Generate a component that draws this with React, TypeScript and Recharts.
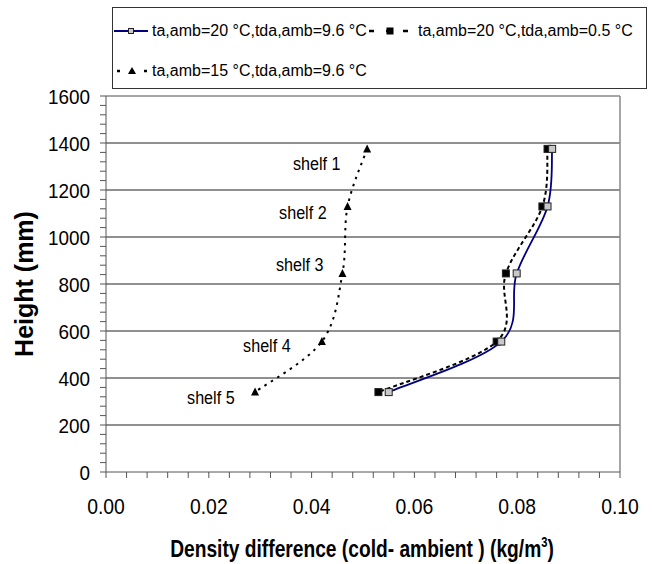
import React from 'react';
import { LineChart, Line, XAxis, YAxis, ReferenceLine, ReferenceDot } from 'recharts';

// heights of the five shelves (mm)
const heights = [1375, 1130, 845, 555, 340];
// density difference (kg/m3) per series, shelf 1 -> shelf 5
const warm96 = [0.0868, 0.0859, 0.0799, 0.0769, 0.055];
const warm05 = [0.0859, 0.0849, 0.0778, 0.076, 0.053];
const cool96 = [0.0508, 0.047, 0.046, 0.042, 0.029];

const shelfNames = ['shelf 1', 'shelf 2', 'shelf 3', 'shelf 4', 'shelf 5'];
const shelfLabelX = [0.041, 0.0383, 0.0377, 0.0313, 0.0204];
const shelfLabelY = [1315, 1107, 885, 540, 320];

const xTicks = Array.from({ length: 26 }, (_, i) => Math.round(i * 4) / 1000);
const yTicks = Array.from({ length: 41 }, (_, i) => i * 40);
const gridLines = [200, 400, 600, 800, 1000, 1200, 1400];

const toRows = (vals: number[]) => vals.map((d, i) => ({ d, h: heights[i] }));

const FONT = '"Liberation Sans", Arial, sans-serif';

// Excel-style smoothed line (Catmull-Rom through the points)
const smoothCurve = (ctx: any) => {
  let pts: number[][] = [];
  return {
    areaStart() {},
    areaEnd() {},
    lineStart() {
      pts = [];
    },
    point(x: number, y: number) {
      pts.push([x, y]);
    },
    lineEnd() {
      if (!pts.length) return;
      ctx.moveTo(pts[0][0], pts[0][1]);
      for (let i = 0; i < pts.length - 1; i++) {
        const p0 = pts[i - 1] || pts[i];
        const p1 = pts[i];
        const p2 = pts[i + 1];
        const p3 = pts[i + 2] || p2;
        ctx.bezierCurveTo(
          p1[0] + (p2[0] - p0[0]) / 6,
          p1[1] + (p2[1] - p0[1]) / 6,
          p2[0] - (p3[0] - p1[0]) / 6,
          p2[1] - (p3[1] - p1[1]) / 6,
          p2[0],
          p2[1],
        );
      }
    },
  };
};

// narrow-looking text: squeeze horizontally around the anchor point
const Narrow = ({ x, y, size, sx, anchor, children, bold }: any) => (
  <text
    transform={`translate(${x},${y}) scale(${sx},1)`}
    textAnchor={anchor}
    fontSize={size}
    fontFamily={FONT}
    fontWeight={bold ? 'bold' : 'normal'}
    fill="#000"
  >
    {children}
  </text>
);

const SquareDot = (fill: string) => (p: any) => {
  if (p.cx == null || p.cy == null) return null;
  return <rect x={p.cx - 3.5} y={p.cy - 3.5} width={7} height={7} fill={fill} stroke="#222" strokeWidth={1} />;
};

const TriDot = (p: any) => {
  if (p.cx == null || p.cy == null) return null;
  const { cx, cy } = p;
  return <path d={`M${cx},${cy - 4.5} L${cx + 4},${cy + 3.5} L${cx - 4},${cy + 3.5} Z`} fill="#000" />;
};

const XTick = (p: any) => {
  const v = p.payload.value;
  if (Math.abs(v * 50 - Math.round(v * 50)) > 1e-6) return null;
  return (
    <Narrow x={p.x} y={p.y + 29} size={22} sx={0.88} anchor="middle">
      {v.toFixed(2)}
    </Narrow>
  );
};

const YTick = (p: any) => {
  const v = p.payload.value;
  if (v % 200 !== 0) return null;
  return (
    <Narrow x={p.x} y={p.y + 7.5} size={21} sx={0.9} anchor="end">
      {v}
    </Narrow>
  );
};

const LegendItem = ({ icon, text, left, top }: { icon: React.ReactNode; text: string; left: number; top: number }) => (
  <div style={{ position: 'absolute', left, top, display: 'flex', alignItems: 'center', height: 20 }}>
    {icon}
    <span style={{ fontFamily: FONT, fontSize: 16, marginLeft: 4, whiteSpace: 'nowrap' }}>{text}</span>
  </div>
);

export default function App() {
  return (
    <div style={{ position: 'absolute', left: 0, top: 0, width: 654, height: 564, background: '#fff' }}>
      <LineChart
        width={654}
        height={564}
        layout="vertical"
        margin={{ top: 96, right: 34, bottom: 52, left: 46 }}
      >
        <XAxis
          type="number"
          domain={[0, 0.1]}
          ticks={xTicks}
          interval={0}
          tick={<XTick />}
          tickSize={6}
          tickMargin={7}
          height={40}
          stroke="#555"
        />
        <YAxis
          type="number"
          dataKey="h"
          domain={[0, 1600]}
          reversed
          ticks={yTicks}
          interval={0}
          tick={<YTick />}
          tickSize={6}
          tickMargin={10}
          width={60}
          stroke="#555"
        />
        {gridLines.map((g) => (
          <ReferenceLine key={g} y={g} stroke="#222" strokeWidth={1.2} />
        ))}
        <ReferenceLine y={1600} stroke="#888" strokeWidth={1.5} />
        <ReferenceLine x={0.1} stroke="#888" strokeWidth={1.5} />
        {shelfNames.map((s, i) => (
          <ReferenceDot
            key={s}
            x={shelfLabelX[i]}
            y={shelfLabelY[i]}
            r={0}
            shape={(p: any) => (
              <Narrow x={p.cx} y={p.cy + 7} size={19} sx={0.85} anchor="middle">
                {s}
              </Narrow>
            )}
          />
        ))}
        <Line
          data={toRows(cool96)}
          dataKey="d"
          type={smoothCurve as any}
          stroke="#000"
          strokeWidth={2}
          strokeDasharray="2.5 5"
          dot={TriDot}
          isAnimationActive={false}
        />
        <Line
          data={toRows(warm05)}
          dataKey="d"
          type={smoothCurve as any}
          stroke="#000"
          strokeWidth={2}
          strokeDasharray="4 3"
          dot={SquareDot('#000')}
          isAnimationActive={false}
        />
        <Line
          data={toRows(warm96)}
          dataKey="d"
          type={smoothCurve as any}
          stroke="#000080"
          strokeWidth={1.8}
          dot={SquareDot('#c8c8c8')}
          isAnimationActive={false}
        />
      </LineChart>

      <svg width={654} height={564} style={{ position: 'absolute', left: 0, top: 0, pointerEvents: 'none' }}>
        <text
          transform="translate(33,284) rotate(-90)"
          textAnchor="middle"
          fontSize={25}
          fontWeight="bold"
          fontFamily={FONT}
          fill="#000"
        >
          Height (mm)
        </text>
        <text
          transform="translate(362,557) scale(0.8,1)"
          textAnchor="middle"
          fontSize={24}
          fontWeight="bold"
          fontFamily={FONT}
          fill="#000"
        >
          Density difference (cold- ambient ) (kg/m
          <tspan dy={-10} fontSize={14}>3</tspan>
          <tspan dy={10}>)</tspan>
        </text>
      </svg>

      <div
        style={{
          position: 'absolute',
          left: 112,
          top: 7,
          width: 533,
          height: 80,
          border: '1.5px solid #333',
          background: '#fff',
        }}
      >
        <LegendItem
          left={1}
          top={13}
          text="ta,amb=20 °C,tda,amb=9.6 °C"
          icon={
            <svg width={34} height={10}>
              <line x1={0} y1={5} x2={34} y2={5} stroke="#000080" strokeWidth={2} />
              <rect x={14.5} y={2.5} width={5} height={5} fill="#c8c8c8" stroke="#222" />
            </svg>
          }
        />
        <LegendItem
          left={253}
          top={13}
          text="ta,amb=20 °C,tda,amb=0.5 °C"
          icon={
            <svg width={48} height={10}>
              <line x1={3} y1={5} x2={45} y2={5} stroke="#000" strokeWidth={2.5} strokeDasharray="5 12" />
              <rect x={20.5} y={1.5} width={7} height={7} fill="#000" />
            </svg>
          }
        />
        <LegendItem
          left={1}
          top={53}
          text="ta,amb=15 °C,tda,amb=9.6 °C"
          icon={
            <svg width={34} height={10}>
              <line x1={3} y1={5} x2={33} y2={5} stroke="#000" strokeWidth={2.5} strokeDasharray="3 10.5" />
              <path d="M18,1 L22,8 L14,8 Z" fill="#000" />
            </svg>
          }
        />
      </div>
    </div>
  );
}
